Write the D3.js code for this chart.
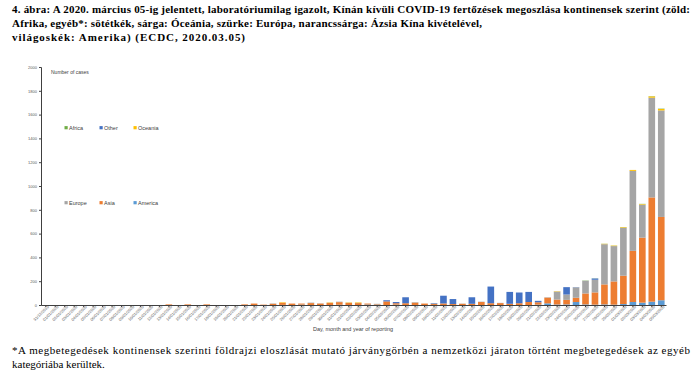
<!DOCTYPE html>
<html><head><meta charset="utf-8">
<script src="https://cdn.jsdelivr.net/npm/d3@7"></script>
<style>html,body{margin:0;padding:0;background:#fff;}svg{display:block;}</style>
</head><body>
<svg id="c" width="700" height="388"></svg>
<script>
// ---- data ----
const dates = (function(){
  const out = ["31/12/2019"];
  for (let d = 1; d <= 31; d++) out.push(String(d).padStart(2,"0") + "/01/2020");
  for (let d = 1; d <= 29; d++) out.push(String(d).padStart(2,"0") + "/02/2020");
  for (let d = 1; d <= 5; d++) out.push(String(d).padStart(2,"0") + "/03/2020");
  return out;
})();
const seriesKeys = ["America","Asia","Europe","Other","Oceania","Africa"];
const seriesColors = ["#5B9BD5","#ED7D31","#A5A5A5","#4472C4","#FFC000","#70AD47"];
// index:            0 .................................................................................................... 65
const america = [0,0,0,0,0,0,0,0,0,0, 0,0,0,0,0,0,0,0,0,0, 0,0,0,0,0,1,0,3,0,0, 0,2,0,0,4,0,0,3,0,0, 0,0,0,0,0,0,0,0,0,0, 0,0,3,14,4,5,25,5,3,5, 3,8,25,20,28,40];
const asia    = [0,0,0,0,0,0,0,0,0,0, 0,0,0,5,0,5,0,5,0,0, 0,5,12,3,10,18,12,9,16,12, 17,22,17,16,8,5,30,12,15,20, 12,8,13,8,10,10,25,15,16,10, 15,25,20,48,42,38,36,92,103,168, 195,238,430,546,876,700];
const europe  = [0,0,0,0,0,0,0,0,0,0, 0,0,0,0,0,0,0,0,0,0, 0,0,0,0,3,0,0,0,4,2, 2,4,2,2,0,5,0,0,0,4, 0,4,0,0,2,0,3,0,2,0, 0,0,0,3,67,45,87,107,106,338, 297,403,672,277,838,895];
const other   = [0,0,0,0,0,0,0,0,0,0, 0,0,0,0,0,0,0,0,0,0, 0,0,0,0,0,0,0,0,0,0, 0,0,0,0,0,0,10,10,50,0, 0,4,65,42,0,55,0,140,0,100, 90,85,12,0,0,62,2,0,11,0, 0,0,0,0,0,0];
const oceania = [0,0,0,0,0,0,0,0,0,0, 0,0,0,0,0,0,0,0,0,0, 0,0,0,0,0,4,0,0,0,0, 3,0,3,4,0,0,0,0,0,0, 0,0,0,0,0,0,0,0,0,0, 0,0,0,0,3,0,0,0,0,3, 4,5,8,5,11,12];
const africa  = [0,0,0,0,0,0,0,0,0,0, 0,0,0,0,0,0,0,0,0,0, 0,0,0,0,0,0,0,0,0,0, 0,0,0,0,0,0,0,0,0,0, 0,0,0,0,0,0,0,0,0,0, 0,0,0,0,0,0,0,2,1,1, 1,1,0,2,2,3];
const yTicks = [0,200,400,600,800,1000,1200,1400,1600,1800,2000];
const legendRow1 = ["Africa","Other","Oceania"];
const legendRow2 = ["Europe","Asia","America"];
const titleLines = [
  "4. ábra: A 2020. március 05-ig jelentett, laboratóriumilag igazolt, Kínán kívüli COVID-19 fertőzések megoszlása kontinensek szerint (zöld:",
  "Afrika, egyéb*: sötétkék, sárga: Óceánia, szürke: Európa, narancssárga: Ázsia Kína kivételével,",
  "világoskék: Amerika) (ECDC, 2020.03.05)"
];
const footLines = [
  "*A megbetegedések kontinensek szerinti földrajzi eloszlását mutató járványgörbén a nemzetközi járaton történt megbetegedések az egyéb",
  "kategóriába kerültek."
];

// ---- build table ----
const seriesData = {America: america, Asia: asia, Europe: europe, Other: other, Oceania: oceania, Africa: africa};
const table = dates.map((d,i) => {
  const row = {date: d};
  seriesKeys.forEach(k => row[k] = seriesData[k][i]);
  return row;
});
const color = d3.scaleOrdinal().domain(seriesKeys).range(seriesColors);

const svg = d3.select("#c");
svg.append("rect").attr("width",700).attr("height",388).attr("fill","#fff");

// title
const titleWidths = [678, 470, 233];
const tt = svg.append("g").attr("font-family","'Liberation Serif','Times New Roman',serif")
  .attr("font-weight","bold").attr("font-size",11).attr("fill","#000");
titleLines.forEach((t,i) => {
  tt.append("text").attr("x",12).attr("y",13 + i*14).text(t)
    .attr("textLength",titleWidths[i]).attr("lengthAdjust","spacing");
});
// footnote
const ft = svg.append("g").attr("font-family","'Liberation Serif','Times New Roman',serif")
  .attr("font-size",11).attr("fill","#000");
footLines.forEach((t,i) => {
  const el = ft.append("text").attr("x",12).attr("y",354 + i*14).text(t);
  if (i === 0) el.attr("textLength",678).attr("lengthAdjust","spacing");
});

// scales
const x = d3.scaleBand().domain(dates).range([41,666]).paddingInner(0.3).paddingOuter(0.15);
const y = d3.scaleLinear().domain([0,2000]).range([305,67]);

const stacked = d3.stack().keys(seriesKeys)(table);
svg.append("g").selectAll("g").data(stacked).join("g")
  .attr("fill", d => color(d.key))
  .selectAll("rect").data(d => d).join("rect")
  .attr("x", d => x(d.data.date))
  .attr("width", x.bandwidth())
  .attr("y", d => y(d[1]))
  .attr("height", d => Math.max(0, y(d[0]) - y(d[1])));

// y axis
const ya = svg.append("g").attr("transform","translate(41,0)")
  .call(d3.axisLeft(y).tickValues(yTicks).tickFormat(d3.format("d")).tickSize(2).tickPadding(2));
ya.select(".domain").attr("stroke","#404040");
ya.selectAll(".tick line").attr("stroke","#404040");
ya.selectAll("text").attr("font-size",4).attr("fill","#595959").attr("font-family","'Liberation Sans',Arial,sans-serif");

// x axis
const xa = svg.append("g").attr("transform","translate(0,305)")
  .call(d3.axisBottom(x).tickSize(2).tickSizeOuter(0));
xa.select(".domain").attr("stroke","#404040");
xa.selectAll(".tick line").attr("stroke","#404040");
xa.selectAll("text")
  .attr("font-size",4).attr("fill","#595959").attr("font-family","'Liberation Sans',Arial,sans-serif")
  .attr("text-anchor","end").attr("dy",0).attr("y",4).attr("x",1)
  .attr("transform","rotate(-45)");

// axis titles
svg.append("text").attr("x",51).attr("y",73.5).attr("font-size",5).attr("fill","#404040")
  .attr("font-family","'Liberation Sans',Arial,sans-serif").text("Number of cases");
svg.append("text").attr("x",353).attr("y",331).attr("text-anchor","middle").attr("font-size",5.5).attr("fill","#404040")
  .attr("font-family","'Liberation Sans',Arial,sans-serif").text("Day, month and year of reporting");

// legend
const legX = [64.5, 99.5, 133.5];
[[legendRow1,127.7],[legendRow2,202.7]].forEach(([items,ly]) => {
  items.forEach((name,i) => {
    const g = svg.append("g").attr("transform",`translate(${legX[i]},${ly})`);
    g.append("rect").attr("x",0).attr("y",-1.6).attr("width",3.2).attr("height",3.2).attr("fill",color(name));
    g.append("text").attr("x",4.5).attr("y",2).attr("font-size",5.5).attr("fill","#404040")
      .attr("font-family","'Liberation Sans',Arial,sans-serif").text(name);
  });
});
</script>
</body></html>
